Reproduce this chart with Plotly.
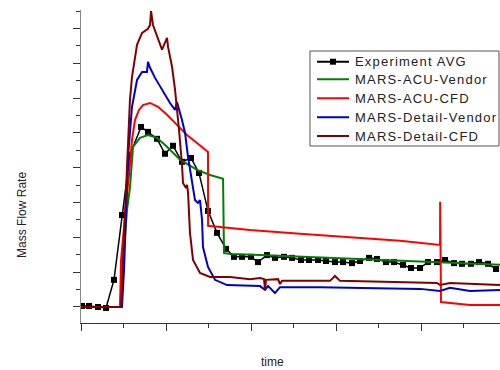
import plotly.graph_objects as go

# ---- data (time in arbitrary units, mass flow in arbitrary units) ----
exp_t = [1.2, 9.4, 20.0, 29.4, 38.8, 48.2, 57.6, 70.6, 78.8, 89.4, 98.8, 108.2, 118.8, 129.4,
         138.8, 149.4, 160.0, 170.6, 180.0, 189.4, 200.0, 208.2, 218.8, 228.2, 238.8, 248.2,
         258.8, 268.2, 278.8, 288.2, 298.8, 308.2, 318.8, 328.2, 338.8, 348.2, 358.8, 368.2,
         378.8, 388.2, 398.8, 408.2, 418.8, 428.2, 438.8, 448.2, 458.8, 468.2, 478.8, 488.2]
exp_f = [0.03, 0.03, 0.0, -0.03, 0.78, 2.64, 4.37, 5.17, 5.03, 4.83, 4.40, 4.63, 4.17, 4.28,
         3.85, 2.76, 2.13, 1.67, 1.44, 1.44, 1.44, 1.29, 1.49, 1.41, 1.44, 1.41,
         1.35, 1.35, 1.35, 1.32, 1.29, 1.29, 1.26, 1.32, 1.41, 1.38, 1.29, 1.29,
         1.21, 1.12, 1.12, 1.29, 1.29, 1.35, 1.26, 1.24, 1.24, 1.29, 1.24, 1.09]

acu_vendor_t = [0, 45.9, 50.6, 54.1, 57.6, 61.2, 69.4, 78.8, 89.4, 101.2, 116.5, 136.5, 151.8,
                167.1, 168.2, 175.3, 210.6, 257.6, 316.5, 375.3, 434.1, 492.9]
acu_vendor_f = [0, 0, 1.64, 2.79, 3.42, 4.60, 4.86, 4.94, 4.86, 4.60, 4.23, 3.94, 3.79,
                3.68, 1.55, 1.52, 1.49, 1.44, 1.38, 1.32, 1.26, 1.21]

acu_cfd_t = [0, 45.9, 47.1, 50.6, 54.1, 57.6, 60.0, 63.5, 68.2, 72.9, 81.2, 90.6, 101.2, 112.9,
             124.7, 136.5, 149.4, 149.5, 198.8, 257.6, 316.5, 375.3, 422.4, 422.5, 423.5,
             440.0, 457.6, 492.9]
acu_cfd_f = [0, 0, 1.35, 2.36, 3.22, 4.08, 4.80, 5.37, 5.66, 5.80, 5.86, 5.75, 5.52, 5.23,
             4.94, 4.71, 4.45, 2.33, 2.21, 2.10, 2.01, 1.90, 1.78, 3.02, 0.14,
             0.11, 0.06, 0.06]

det_vendor_t = [0, 48.2, 50.6, 52.9, 55.3, 60.0, 65.9, 71.8, 77.6, 78.8, 81.2, 87.1, 95.3, 104.7,
                110.6, 112.9, 118.8, 122.4, 125.9, 130.6, 134.1, 137.6, 140.0, 142.4, 143.5,
                149.4, 157.6, 171.8, 210.6, 216.5, 220.0, 228.2, 234.1, 281.2, 340.0, 398.8,
                422.4, 434.1, 457.6, 492.9]
det_vendor_f = [0, 0, 1.06, 2.50, 4.31, 5.75, 6.52, 6.75, 6.75, 7.04, 6.87, 6.58, 6.24, 5.86,
                5.66, 5.89, 5.37, 5.00, 4.31, 3.56, 3.07, 2.99, 3.07, 2.50, 1.72,
                1.15, 0.78, 0.63, 0.60, 0.49, 0.60, 0.40, 0.57, 0.57, 0.55, 0.52,
                0.46, 0.55, 0.46, 0.49]

det_cfd_t = [0, 47.1, 49.4, 51.8, 54.1, 57.6, 60.0, 65.9, 71.8, 78.8, 81.2, 82.4, 84.7, 89.4,
             95.3, 98.8, 101.2, 102.4, 107.1, 110.6, 112.9, 115.3, 118.8, 120.0, 123.5, 124.7,
             125.9, 128.2, 131.8, 140.0, 151.8, 175.3, 198.8, 210.6, 215.3, 216.5, 217.6,
             231.8, 234.1, 236.5, 292.9, 298.8, 304.7, 355.3, 418.8, 422.4, 434.1, 492.9]
det_cfd_f = [0, 0, 1.35, 2.79, 4.22, 5.95, 6.61, 7.53, 7.87, 7.99, 8.10, 8.50, 8.10, 7.76,
             7.39, 7.59, 7.73, 7.47, 6.90, 6.24, 5.75, 5.09, 4.08, 3.56, 3.42, 3.51,
             3.30, 2.13, 1.35, 0.98, 0.86, 0.86, 0.80, 0.83, 0.80, 0.49, 0.78,
             0.80, 0.66, 0.75, 0.75, 0.89, 0.75, 0.72, 0.69, 0.63, 0.69, 0.63]

names = ["Experiment AVG", "MARS-ACU-Vendor", "MARS-ACU-CFD", "MARS-Detail-Vendor", "MARS-Detail-CFD"]
colors = ["#000000", "#008000", "#FF0000", "#0000C8", "#800000"]

fig = go.Figure()
fig.add_trace(go.Scatter(x=exp_t, y=exp_f, name=names[0], mode="lines+markers",
                         line=dict(color=colors[0], width=1.5),
                         marker=dict(symbol="square", size=6, color=colors[0])))
for t, f, n, c in [(acu_vendor_t, acu_vendor_f, names[1], colors[1]),
                   (acu_cfd_t, acu_cfd_f, names[2], colors[2]),
                   (det_vendor_t, det_vendor_f, names[3], colors[3]),
                   (det_cfd_t, det_cfd_f, names[4], colors[4])]:
    fig.add_trace(go.Scatter(x=t, y=f, name=n, mode="lines", line=dict(color=c, width=2)))

# ---- boxed legend (drawn in paper coordinates) ----
leg_x0, leg_x1, leg_top, leg_bot = 0.5465, 0.9976, 0.869, 0.5655
entry_y = [0.8348, 0.7788, 0.7181, 0.6572, 0.5974]
line_x0, line_x1, mark_x, text_x = 0.5632, 0.6396, 0.6014, 0.6492

shapes = [dict(type="rect", xref="paper", yref="paper", x0=leg_x0, x1=leg_x1,
               y0=leg_bot, y1=leg_top, line=dict(color="#555", width=1),
               fillcolor="white", layer="above")]
annotations = []
for i, (n, c) in enumerate(zip(names, colors)):
    shapes.append(dict(type="line", xref="paper", yref="paper", x0=line_x0, x1=line_x1,
                       y0=entry_y[i], y1=entry_y[i], line=dict(color=c, width=2),
                       layer="above"))
    annotations.append(dict(text="<span style='letter-spacing:1.2px'>" + n + "</span>",
                            xref="paper", yref="paper", x=text_x, y=entry_y[i],
                            xanchor="left", yanchor="middle", showarrow=False,
                            font=dict(size=13, color="#222")))
shapes.append(dict(type="rect", xref="paper", yref="paper",
                   xsizemode="pixel", ysizemode="pixel",
                   xanchor=mark_x, yanchor=entry_y[0], x0=-3, x1=3, y0=-3, y1=3,
                   fillcolor="#000", line=dict(width=0), layer="above"))

annotations += [
    dict(text="Mass Flow Rate", xref="paper", yref="paper", x=-0.141, y=0.345,
         textangle=-90, showarrow=False, font=dict(size=12, color="#222"),
         xanchor="center", yanchor="middle"),
    dict(text="time", xref="paper", yref="paper", x=0.456, y=-0.125,
         showarrow=False, font=dict(size=12, color="#222"),
         xanchor="center", yanchor="middle"),
]

fig.update_layout(
    autosize=False,
    width=500, height=370,
    margin=dict(l=81, r=0, t=10, b=47),
    paper_bgcolor="white", plot_bgcolor="white",
    font=dict(family="Arial, Liberation Sans, sans-serif", size=12, color="#222"),
    showlegend=False,
    xaxis=dict(range=[0, 492.9], showgrid=False, zeroline=False, showline=True,
               linecolor="#333", linewidth=1, ticks="outside", ticklen=7, tickcolor="#333",
               tick0=0, dtick=100, showticklabels=False,
               minor=dict(ticks="outside", ticklen=4, tickcolor="#333", dtick=50, tick0=0)),
    yaxis=dict(range=[-0.46, 8.53], showgrid=False, zeroline=False, showline=True,
               linecolor="#888", linewidth=1, ticks="outside", ticklen=7, tickcolor="#333",
               tick0=0, dtick=1, showticklabels=False,
               minor=dict(ticks="outside", ticklen=4, tickcolor="#333", dtick=0.5, tick0=0)),
    shapes=shapes,
    annotations=annotations,
)

fig.write_html("out.html", config={"responsive": False, "displayModeBar": False},
               post_script="document.body.style.margin='0px';document.body.style.overflow='hidden';")
